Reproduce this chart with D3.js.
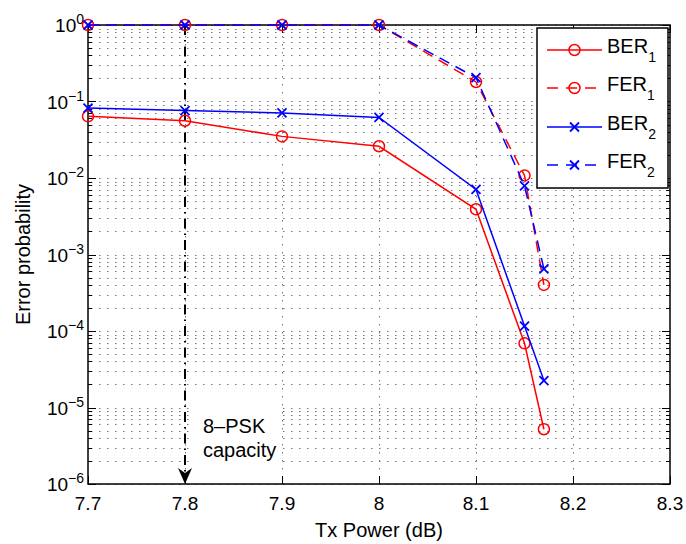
<!DOCTYPE html>
<html>
<head>
<meta charset="utf-8">
<script src="https://cdn.jsdelivr.net/npm/d3@7"></script>
<style>
  body { margin: 0; background: #fff; }
  text { font-family: "Liberation Sans", Arial, Helvetica, sans-serif; fill: #000; }
</style>
</head>
<body>
<div id="chart"></div>
<script>
// values
const txPower = [7.7, 7.8, 7.9, 8.0, 8.1, 8.15, 8.17];
const ber1 = [0.064, 0.056, 0.035, 0.026, 0.0039, 6.9e-5, 5.2e-6];
const fer1 = [1, 1, 1, 1, 0.18, 0.0108, 4.0e-4];
const ber2 = [0.082, 0.076, 0.071, 0.062, 0.0071, 1.16e-4, 2.25e-5];
const fer2 = [1, 1, 1, 1, 0.205, 0.0079, 6.5e-4];
const xTicks = [7.7, 7.8, 7.9, 8.0, 8.1, 8.2, 8.3];
const xTickLabels = ['7.7', '7.8', '7.9', '8', '8.1', '8.2', '8.3'];
const yExponents = [0, -1, -2, -3, -4, -5, -6];
const seriesNames = ['BER', 'FER', 'BER', 'FER'];
const seriesSubs = ['1', '1', '2', '2'];

const width = 686;
const height = 544;
const margin = {top: 25, right: 16, bottom: 60, left: 88};

const svg = d3.select('#chart')
    .append('svg')
        .attr('width', width)
        .attr('height', height);

const x = d3.scaleLinear()
    .domain([7.7, 8.3])
    .range([margin.left, width - margin.right]);

const y = d3.scaleLog()
    .domain([1e-6, 1])
    .range([height - margin.bottom, margin.top]);

const x0 = x.range()[0], x1 = x.range()[1];
const yTop = y.range()[1], yBot = y.range()[0];

// grid (major + minor on log axis, major only on x)
const yGridVals = [];
for (let e = -6; e <= 0; e++) {
    for (let m = 1; m <= 9; m++) {
        const v = m * Math.pow(10, e);
        if (v <= 1) yGridVals.push(v);
    }
}

svg.append('g')
    .selectAll('line')
    .data(yGridVals)
    .join('line')
        .attr('x1', x0 + 3).attr('x2', x1)
        .attr('y1', d => Math.round(y(d)) + 0.5)
        .attr('y2', d => Math.round(y(d)) + 0.5)
        .attr('stroke', '#777')
        .attr('stroke-width', 1)
        .attr('stroke-dasharray', '1.5,6.5');

svg.append('g')
    .selectAll('line')
    .data(xTicks.slice(1, -1))
    .join('line')
        .attr('x1', d => Math.round(x(d)) + 0.5)
        .attr('x2', d => Math.round(x(d)) + 0.5)
        .attr('y1', yTop + 3).attr('y2', yBot)
        .attr('stroke', '#777')
        .attr('stroke-width', 1)
        .attr('stroke-dasharray', '1.5,6.5');

// white box behind the annotation text
svg.append('rect')
    .attr('x', 194).attr('y', 404)
    .attr('width', 86).attr('height', 62)
    .attr('fill', '#fff');

// axes box and ticks
const axisG = svg.append('g').attr('stroke', '#000');

axisG.selectAll('.xt')
    .data(xTicks)
    .join('g')
    .each(function(d) {
        const g = d3.select(this);
        const px = Math.round(x(d)) + 0.5;
        g.append('line').attr('x1', px).attr('x2', px).attr('y1', yBot).attr('y2', yBot - 8);
        g.append('line').attr('x1', px).attr('x2', px).attr('y1', yTop).attr('y2', yTop + 8);
    });

axisG.selectAll('.yt')
    .data(yGridVals)
    .join('g')
    .each(function(d) {
        const g = d3.select(this);
        const py = Math.round(y(d)) + 0.5;
        const major = Math.abs(Math.log10(d) - Math.round(Math.log10(d))) < 1e-9;
        const len = major ? 8 : 4;
        g.append('line').attr('x1', x0).attr('x2', x0 + len).attr('y1', py).attr('y2', py);
        g.append('line').attr('x1', x1).attr('x2', x1 - len).attr('y1', py).attr('y2', py);
    });

axisG.append('rect')
    .attr('x', x0).attr('y', yTop)
    .attr('width', x1 - x0).attr('height', yBot - yTop)
    .attr('fill', 'none')
    .attr('stroke-width', 1.5);

// tick labels
svg.append('g')
    .selectAll('text')
    .data(xTicks)
    .join('text')
        .attr('x', d => x(d))
        .attr('y', yBot + 26)
        .attr('text-anchor', 'middle')
        .attr('font-size', 19)
        .text((d, i) => xTickLabels[i]);

const yLabels = svg.append('g')
    .selectAll('text')
    .data(yExponents)
    .join('text')
        .attr('x', x0 - 4)
        .attr('y', d => y(Math.pow(10, d)) + 7)
        .attr('text-anchor', 'end')
        .attr('font-size', 19);
yLabels.append('tspan').text('10');
yLabels.append('tspan')
    .attr('dy', -8)
    .attr('font-size', 14)
    .text(d => d === 0 ? '0' : '\u2212' + Math.abs(d));

// axis labels
svg.append('text')
    .attr('x', (x0 + x1) / 2)
    .attr('y', 537)
    .attr('text-anchor', 'middle')
    .attr('font-size', 20)
    .text('Tx Power (dB)');

svg.append('text')
    .attr('transform', `translate(30, ${(yTop + yBot) / 2}) rotate(-90)`)
    .attr('text-anchor', 'middle')
    .attr('font-size', 20)
    .text('Error probability');

// annotation arrow at 7.8 dB
const ax = x(7.8);
svg.append('line')
    .attr('x1', ax).attr('x2', ax)
    .attr('y1', yTop).attr('y2', yBot - 12)
    .attr('stroke', '#000')
    .attr('stroke-width', 2)
    .attr('stroke-dasharray', '10,5,1.5,5');
svg.append('path')
    .attr('d', `M${ax},${yBot} L${ax - 7},${yBot - 16} L${ax},${yBot - 11} L${ax + 7},${yBot - 16} Z`)
    .attr('fill', '#000');

svg.append('text')
    .attr('x', 203).attr('y', 433)
    .attr('font-size', 20)
    .text('8\u2013PSK');
svg.append('text')
    .attr('x', 203).attr('y', 457)
    .attr('font-size', 20)
    .text('capacity');

// series
const series = [
    {values: ber1, color: '#ff0000', dash: null, marker: 'o'},
    {values: fer1, color: '#ff0000', dash: '11,7', marker: 'o'},
    {values: ber2, color: '#0000ff', dash: null, marker: 'x'},
    {values: fer2, color: '#0000ff', dash: '11,7', marker: 'x'}
];

const line = d3.line()
    .x(d => x(d[0]))
    .y(d => y(d[1]));

function drawMarker(g, type, cx, cy, color) {
    if (type === 'o') {
        g.append('circle')
            .attr('cx', cx).attr('cy', cy).attr('r', 5.5)
            .attr('fill', 'none')
            .attr('stroke', color)
            .attr('stroke-width', 1.5);
    } else {
        const s = 4.5;
        g.append('path')
            .attr('d', `M${cx - s},${cy - s}L${cx + s},${cy + s}M${cx - s},${cy + s}L${cx + s},${cy - s}`)
            .attr('stroke', color)
            .attr('stroke-width', 1.8);
    }
}

series.forEach(s => {
    const pts = txPower.map((t, i) => [t, s.values[i]]);
    const g = svg.append('g');
    g.append('path')
        .attr('d', line(pts))
        .attr('fill', 'none')
        .attr('stroke', s.color)
        .attr('stroke-width', 1.5)
        .attr('stroke-dasharray', s.dash);
    pts.forEach(p => drawMarker(g, s.marker, x(p[0]), y(p[1]), s.color));
});

// legend
const legend = svg.append('g');
legend.append('rect')
    .attr('x', 537).attr('y', 28)
    .attr('width', 131).attr('height', 160)
    .attr('fill', '#fff')
    .attr('stroke', '#000')
    .attr('stroke-width', 1.5);

const rowY = [50, 88, 127, 165];
series.forEach((s, i) => {
    const ly = rowY[i];
    legend.append('line')
        .attr('x1', 547).attr('x2', 602)
        .attr('y1', ly).attr('y2', ly)
        .attr('stroke', s.color)
        .attr('stroke-width', 1.5)
        .attr('stroke-dasharray', s.dash ? '11,8' : null);
    drawMarker(legend, s.marker, 574.5, ly, s.color);
    const t = legend.append('text')
        .attr('x', 607).attr('y', ly + 3)
        .attr('font-size', 20);
    t.append('tspan').text(seriesNames[i]);
    t.append('tspan').attr('dy', 9).attr('font-size', 14).text(seriesSubs[i]);
});
</script>
</body>
</html>
